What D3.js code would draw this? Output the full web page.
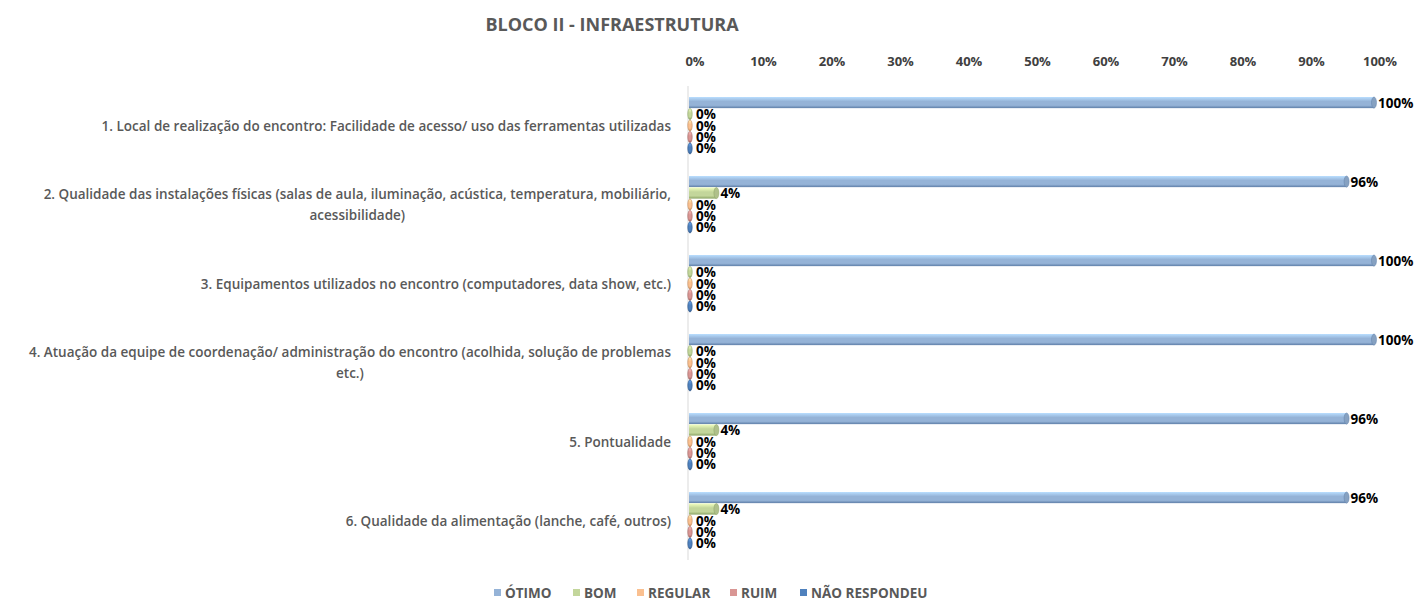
<!DOCTYPE html>
<html>
<head>
<meta charset="utf-8">
<script src="https://cdn.jsdelivr.net/npm/d3@7"></script>
<style>
  body { margin: 0; background: #fff; }
  text { font-family: "Open Sans", sans-serif; }
</style>
</head>
<body>
<div id="chart"></div>
<script>
const categories = [
  '1. Local de realização do encontro: Facilidade de acesso/ uso das ferramentas utilizadas',
  '2. Qualidade das instalações físicas (salas de aula, iluminação, acústica, temperatura, mobiliário,\nacessibilidade)',
  '3. Equipamentos utilizados no encontro (computadores, data show, etc.)',
  '4. Atuação da equipe de coordenação/ administração do encontro (acolhida, solução de problemas\netc.)',
  '5. Pontualidade',
  '6. Qualidade da alimentação (lanche, café, outros)'
]
const seriesNames = ['ÓTIMO', 'BOM', 'REGULAR', 'RUIM', 'NÃO RESPONDEU']
const otimo = [100, 96, 100, 100, 96, 96]
const bom = [0, 4, 0, 0, 4, 4]
const regular = [0, 0, 0, 0, 0, 0]
const ruim = [0, 0, 0, 0, 0, 0]
const naoRespondeu = [0, 0, 0, 0, 0, 0]
const ticks = [0, 10, 20, 30, 40, 50, 60, 70, 80, 90, 100]

const values = [otimo, bom, regular, ruim, naoRespondeu]
const colors = ['#95b3d7', '#c3d69b', '#fac090', '#d99694', '#4f81bd']
const darks = ['#5f7fa8', '#8ba465', '#c48a5a', '#a26462', '#2c5689']

const width = 1416
const height = 615

const svg = d3.select('#chart').append('svg')
  .attr('width', width)
  .attr('height', height)

const x = d3.scaleLinear().domain([0, 100]).range([689, 1374])
const y = d3.scaleBand().domain(d3.range(categories.length)).range([86, 560]).paddingInner(0.27).paddingOuter(0.135)
const ys = d3.scaleBand().domain(d3.range(seriesNames.length)).range([0, y.bandwidth()]).padding(0.03)

// gradients for the cylinder look
const defs = svg.append('defs')
colors.forEach((c, i) => {
  const gr = defs.append('linearGradient')
    .attr('id', 'g' + i)
    .attr('x1', 0).attr('y1', 0).attr('x2', 0).attr('y2', 1)
  gr.append('stop').attr('offset', '0%').attr('stop-color', d3.color(c).brighter(0.6))
  gr.append('stop').attr('offset', '40%').attr('stop-color', c)
  gr.append('stop').attr('offset', '75%').attr('stop-color', c)
  gr.append('stop').attr('offset', '100%').attr('stop-color', darks[i])
})

// title
svg.append('text')
  .attr('x', 612)
  .attr('y', 31)
  .attr('text-anchor', 'middle')
  .style('font-size', '18px')
  .style('font-weight', 'bold')
  .style('fill', '#595959')
  .text('BLOCO II - INFRAESTRUTURA')

// top axis labels
svg.append('g').selectAll('text').data(ticks).enter()
  .append('text')
  .attr('x', d => x(d) + 6)
  .attr('y', 66)
  .attr('text-anchor', 'middle')
  .style('font-size', '13px')
  .style('font-weight', 'bold')
  .style('fill', '#404040')
  .text(d => d + '%')

// axis line
svg.append('line')
  .attr('x1', x(0) - 1).attr('x2', x(0) - 1)
  .attr('y1', 86).attr('y2', 560)
  .style('stroke', '#d9d9d9')

// category labels
const labelRight = 671
const catg = svg.append('g')
  .style('font-size', '13.5px')
  .style('font-weight', '600')
  .style('fill', '#595959')

categories.forEach((c, i) => {
  const lines = c.split('\n')
  const t = catg.append('text').attr('text-anchor', 'middle')
  const cy = y(i) + y.bandwidth() / 2
  const lh = 21
  const y0 = cy - (lines.length - 1) * lh / 2 + 5
  lines.forEach((l, k) => {
    t.append('tspan').attr('y', y0 + k * lh).text(l)
  })
  const w = d3.max(t.selectAll('tspan').nodes(), n => n.getComputedTextLength())
  t.selectAll('tspan').attr('x', labelRight - w / 2)
})

// bars
const bh = ys.bandwidth()
values.forEach((vals, s) => {
  const g = svg.append('g')
  vals.forEach((v, i) => {
    const top = y(i) + ys(s)
    const x0 = x(0)
    const x1 = x(v)
    if (v > 0) {
      g.append('rect')
        .attr('x', x0)
        .attr('y', top)
        .attr('width', x1 - x0)
        .attr('height', bh)
        .style('fill', `url(#g${s})`)
      g.append('ellipse')
        .attr('cx', x1)
        .attr('cy', top + bh / 2)
        .attr('rx', 2.5)
        .attr('ry', bh / 2)
        .style('fill', d3.color(colors[s]).darker(0.3))
        .style('stroke', darks[s])
        .style('stroke-width', 0.5)
    } else {
      g.append('ellipse')
        .attr('cx', x0 + 1)
        .attr('cy', top + bh / 2)
        .attr('rx', 2.2)
        .attr('ry', bh / 2)
        .style('fill', `url(#g${s})`)
        .style('stroke', darks[s])
        .style('stroke-width', 0.6)
    }
    g.append('text')
      .attr('x', x1 + (v > 0 ? 4 : 7))
      .attr('y', top + bh / 2 + 5)
      .style('font-size', '13.5px')
      .style('font-weight', 'bold')
      .style('fill', '#000')
      .text(v + '%')
  })
})

// legend
const legend = svg.append('g')
  .attr('transform', 'translate(494, 593)')
  .style('font-size', '13.5px')
  .style('font-weight', 'bold')
  .style('fill', '#595959')
const legendX = [0, 79, 143, 236, 306]
seriesNames.forEach((n, i) => {
  const lg = legend.append('g').attr('transform', `translate(${legendX[i]},0)`)
  lg.append('rect')
    .attr('x', 0).attr('y', -4)
    .attr('width', 7).attr('height', 7)
    .style('fill', colors[i])
  lg.append('text')
    .attr('x', 11)
    .attr('y', 5)
    .text(n)
})
</script>
</body>
</html>
